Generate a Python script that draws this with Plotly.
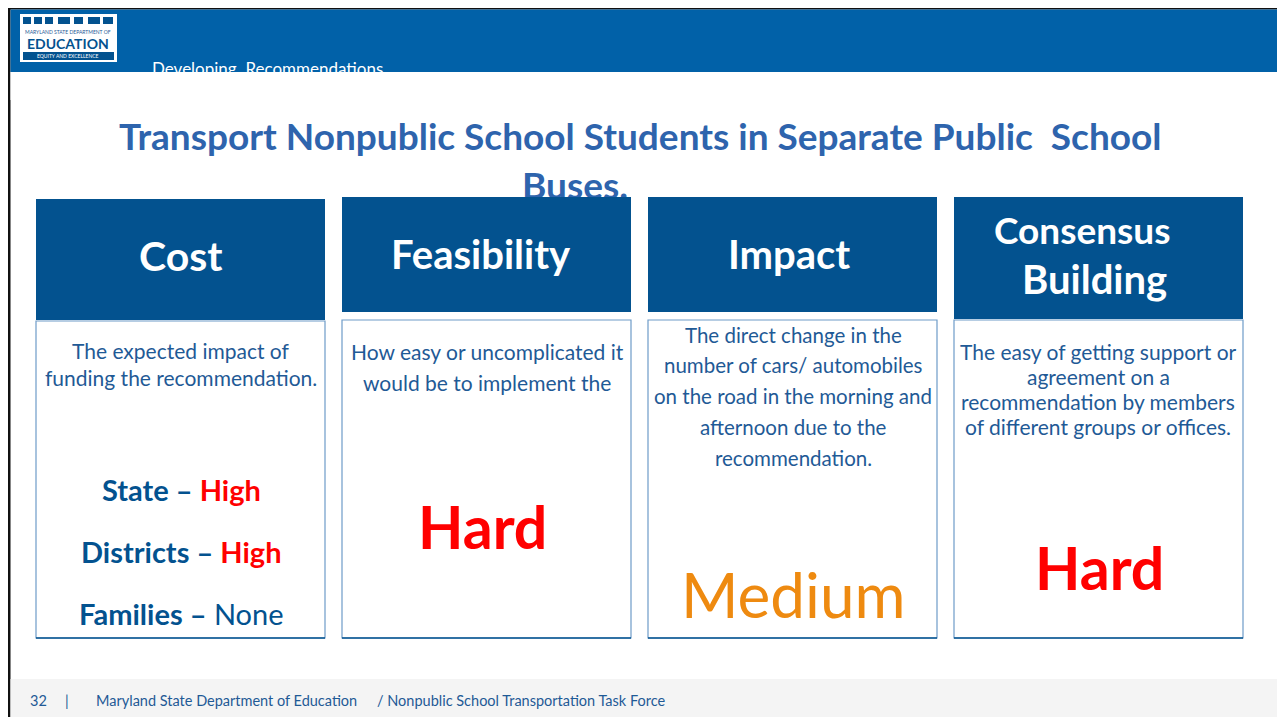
import plotly.graph_objects as go

W, H = 1285, 717
OFF = 8  # page body margin of the browser; axes are offset so data units = screen pixels

# ---------------- data (text content of the slide) ----------------
section_label = "Developing  Recommendations"
title_line1 = "Transport Nonpublic School Students in Separate Public  School"
title_line2 = "Buses."
criteria = ["Cost", "Feasibility", "Impact", "Consensus", "Building"]
descriptions = [
    ["The expected impact of", "funding the recommendation."],
    ["How easy or uncomplicated it", "would be to implement the"],
    ["The direct change in the", "number of cars/ automobiles",
     "on the road in the morning and", "afternoon due to the", "recommendation."],
    ["The easy of getting support or", "agreement on a",
     "recommendation by members", "of different groups or offices."],
]
cost_groups = ["State", "Districts", "Families"]
cost_levels = ["High", "High", "None"]
ratings = ["", "Hard", "Medium", "Hard"]
footer_page = "32"
footer_org = "Maryland State Department of Education"
footer_task = "/ Nonpublic School Transportation Task Force"
logo_lines = ["MARYLAND STATE DEPARTMENT OF", "EDUCATION", "EQUITY AND EXCELLENCE"]

# ---------------- styling / layout ----------------
FONT = "Lato, 'Open Sans', sans-serif"
HEADER_BAND = "#0161A8"
BOX_BLUE = "#03528F"
TITLE_BLUE = "#2E64AD"
TEXT_BLUE = "#1F5A96"
RED = "#FF0000"
ORANGE = "#EE8A10"
BORDER = "#6E9CC8"

col_left = [36, 342, 648, 954]
col_w = 289
head_top = [199, 197, 197, 197]
head_bot = [320, 312, 312, 319]
body_top = [321, 320, 320, 320]
body_bot = 638

fig = go.Figure()
shapes = []
ann = []

def rect(x0, y0, x1, y1, fill, line=None, lw=0, layer="above"):
    shapes.append(dict(type="rect", xref="x", yref="y", x0=x0, y0=y0, x1=x1, y1=y1,
                       fillcolor=fill, line=dict(color=line or fill, width=lw), layer=layer))

def text(x, y, s, size, color, xanchor="center", yanchor="middle"):
    ann.append(dict(x=x, y=y, xref="x", yref="y", text=s, showarrow=False,
                    xanchor=xanchor, yanchor=yanchor,
                    font=dict(family=FONT, size=size, color=color)))

# outer frame
rect(OFF, OFF, W, OFF + 1.5, "#111111", layer="below")
rect(OFF, OFF, 10.5, H, "#111111", layer="below")
# header band
rect(10.5, OFF + 1.5, W, 72, HEADER_BAND, layer="below")
# footer band
rect(10.5, 679, W, H, "#F4F4F4", layer="below")

# section label (clipped by band edge) as a trace under the white cover
fig.add_trace(go.Scatter(x=[152], y=[71], mode="text", text=[section_label],
                         textposition="middle right", hoverinfo="skip",
                         textfont=dict(family=FONT, size=17, color="white")))
# white cover below band
rect(10.5, 72, W, 100, "white", layer="above")

# logo
rect(20, 14, 117, 62, "white", layer="above")
for (a, b) in [(23, 31), (34, 42), (45, 53), (58, 70), (74, 83), (88, 100), (103, 113)]:
    rect(a, 17, b, 24, BOX_BLUE, layer="above")
rect(23, 52, 114, 60, BOX_BLUE, layer="above")
text(68, 32, logo_lines[0], 5, TEXT_BLUE)
text(68, 43, "<b>" + logo_lines[1] + "</b>", 14, BOX_BLUE)
text(68, 56, logo_lines[2], 5, "white")

# slide title
text(640, 135, "<b>" + title_line1 + "</b>", 37, TITLE_BLUE)
fig.add_trace(go.Scatter(x=[575], y=[190], mode="text", text=["<b>" + title_line2 + "</b>"],
                         textposition="middle center", hoverinfo="skip",
                         textfont=dict(family=FONT, size=37, color=TITLE_BLUE)))

# boxes
for i in range(4):
    x0 = col_left[i]
    x1 = x0 + col_w
    rect(x0, body_top[i], x1, body_bot, "white", BORDER, 1.2)
    shapes.append(dict(type="line", xref="x", yref="y", x0=x0, x1=x1, y0=body_bot, y1=body_bot,
                       line=dict(color=BOX_BLUE, width=1.5), layer="above"))
    rect(x0, head_top[i], x1, head_bot[i], BOX_BLUE, layer="above")

# header labels
head_pos = [(181, 255), (481, 254), (789, 254), (1082, 229), (1094, 279)]
head_size = [41, 40, 40, 37, 40]
for lab, (x, y), sz in zip(criteria, head_pos, head_size):
    text(x, y, "<b>" + lab + "</b>", sz, "white")

# descriptions
desc_x = [181, 487, 793, 1098]
desc_y = [[350, 377], [351, 382], [335, 365, 396, 427, 458], [351, 376, 401, 426]]
desc_size = [21, 21, 20.5, 21]
for i, lines in enumerate(descriptions):
    for s, y in zip(lines, desc_y[i]):
        text(desc_x[i], y, s, desc_size[i], TEXT_BLUE)

# cost breakdown
cost_y = [489, 551, 613]
for g, lvl, y in zip(cost_groups, cost_levels, cost_y):
    if lvl == "None":
        s = "<b>%s –</b> %s" % (g, lvl)
    else:
        s = "<b>%s – <span style='color:%s'>%s</span></b>" % (g, RED, lvl)
    text(181, y, s, 29, BOX_BLUE)

# ratings
rate_pos = [None, (482, 526), (793, 594), (1099, 567)]
rate_col = [None, RED, ORANGE, RED]
rate_size = [None, 59, 62, 59]
for i in range(1, 4):
    r = ratings[i]
    s = r if r == "Medium" else "<b>" + r + "</b>"
    text(rate_pos[i][0], rate_pos[i][1], s, rate_size[i], rate_col[i])

# footer
text(28, 700, footer_page, 14.5, TEXT_BLUE, xanchor="left")
text(63, 700, "|", 14.5, TEXT_BLUE, xanchor="left")
text(94, 700, footer_org, 14.5, TEXT_BLUE, xanchor="left")
text(375, 700, footer_task, 14.5, TEXT_BLUE, xanchor="left")

fig.update_layout(
    width=W - OFF, height=H - OFF, margin=dict(l=0, r=0, t=0, b=0),
    paper_bgcolor="white", plot_bgcolor="white", showlegend=False,
    xaxis=dict(range=[OFF, W], visible=False, fixedrange=True),
    yaxis=dict(range=[H, OFF], visible=False, fixedrange=True),
    shapes=shapes, annotations=ann,
)
fig.write_html("out.html", config={"displayModeBar": False})
